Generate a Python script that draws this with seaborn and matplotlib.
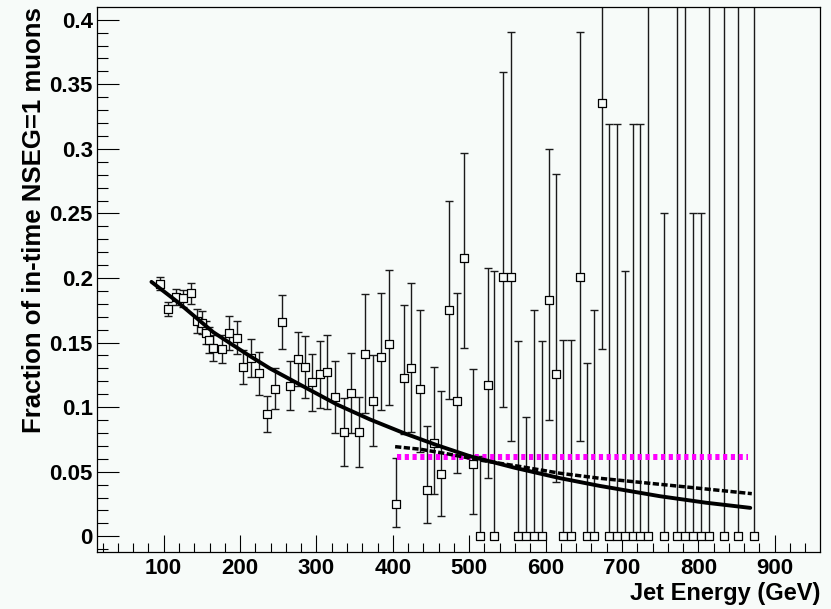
import numpy as np
import pandas as pd
import matplotlib
matplotlib.use("Agg")
import matplotlib.pyplot as plt
import seaborn as sns
from matplotlib.ticker import FixedLocator, MultipleLocator

# ---- data ----
energy = [95.2, 105.3, 115.7, 125.7, 135.8, 144.0, 150.2, 155.0, 159.7, 164.6,
          176.0, 185.5, 195.6, 203.9, 214.0, 225.2, 235.3, 245.4, 254.9, 265.4,
          275.9, 284.6, 294.6, 304.3, 314.2, 324.3, 335.7, 345.3, 355.3, 364.0,
          373.7, 385.0, 395.0, 404.2, 414.3, 424.2, 435.6, 444.4, 454.3, 463.5,
          474.0, 483.7, 493.2, 504.6, 514.2, 524.6, 532.9, 544.7, 554.4, 564.3,
          574.4, 584.5, 595.0, 604.9, 613.3, 623.2, 633.2, 645.0, 653.9, 663.0,
          674.3, 683.5, 693.5, 704.0, 714.1, 723.7, 733.8, 755.2, 772.5, 783.0,
          793.1, 804.0, 814.0, 833.6, 852.4, 873.3]
fraction = [0.1954, 0.1762, 0.1851, 0.1843, 0.1882, 0.1667, 0.1654, 0.1576, 0.1520, 0.1456,
            0.1448, 0.1576, 0.1538, 0.1313, 0.1380, 0.1262, 0.0947, 0.1143, 0.1659, 0.1164,
            0.1375, 0.1313, 0.1192, 0.1254, 0.1272, 0.1081, 0.0808, 0.1112, 0.0808, 0.1414,
            0.1050, 0.1386, 0.1489, 0.0250, 0.1223, 0.1305, 0.1143, 0.0362, 0.0720, 0.0485,
            0.1750, 0.1050, 0.2157, 0.0562, 0.0, 0.1171, 0.0, 0.2005, 0.2005, 0.0,
            0.0, 0.0, 0.0, 0.1832, 0.1254, 0.0, 0.0, 0.2005, 0.0, 0.0,
            0.3353, 0.0, 0.0, 0.0, 0.0, 0.0, 0.0, 0.0, 0.0, 0.0,
            0.0, 0.0, 0.0, 0.0, 0.0, 0.0]
err_low = [0.005, 0.0055, 0.006, 0.0065, 0.008, 0.009, 0.009, 0.009, 0.010, 0.010,
           0.011, 0.013, 0.013, 0.013, 0.015, 0.0165, 0.014, 0.016, 0.021, 0.019,
           0.021, 0.024, 0.022, 0.026, 0.029, 0.028, 0.026, 0.031, 0.027, 0.046,
           0.035, 0.041, 0.047, 0.018, 0.043, 0.050, 0.049, 0.026, 0.039, 0.033,
           0.069, 0.056, 0.070, 0.039, 0.0, 0.072, 0.0, 0.1006, 0.127, 0.0,
           0.0, 0.0, 0.0, 0.093, 0.083, 0.0, 0.0, 0.127, 0.0, 0.0,
           0.1905, 0.0, 0.0, 0.0, 0.0, 0.0, 0.0, 0.0, 0.0, 0.0,
           0.0, 0.0, 0.0, 0.0, 0.0, 0.0]
err_high = [0.005, 0.0055, 0.006, 0.0065, 0.008, 0.009, 0.009, 0.009, 0.010, 0.010,
            0.011, 0.013, 0.013, 0.013, 0.015, 0.0165, 0.014, 0.016, 0.021, 0.019,
            0.021, 0.024, 0.022, 0.026, 0.029, 0.028, 0.026, 0.031, 0.027, 0.046,
            0.035, 0.050, 0.057, 0.0355, 0.057, 0.066, 0.061, 0.049, 0.059, 0.064,
            0.085, 0.083, 0.081, 0.073, 0.062, 0.091, 0.2054, 0.159, 0.19, 0.1515,
            0.092, 0.175, 0.1515, 0.117, 0.155, 0.152, 0.152, 0.19, 0.1344, 0.175,
            0.30, 0.319, 0.319, 0.2054, 0.319, 0.319, 1.0, 0.25, 1.0, 1.0,
            0.25, 0.25, 1.0, 1.0, 1.0, 1.0]

fit_energy = [84, 117, 135, 165, 209, 239, 283, 327, 370, 414, 458, 501, 560, 619, 671, 750, 810, 868]
fit_fraction = [0.197, 0.182, 0.173, 0.158, 0.141, 0.130, 0.116, 0.102, 0.0905, 0.080,
                0.0705, 0.062, 0.053, 0.045, 0.039, 0.031, 0.026, 0.022]

alt_energy = [403, 436, 470, 514, 567, 619, 671, 759, 870]
alt_fraction = [0.0694, 0.0674, 0.064, 0.059, 0.054, 0.0488, 0.0449, 0.0397, 0.033]

flat_energy = [405, 865]
flat_fraction = [0.0616, 0.0616]

xtick_vals = [100, 200, 300, 400, 500, 600, 700, 800, 900]
xtick_labels = ["100", "200", "300", "400", "500", "600", "700", "800", "900"]
ytick_vals = [0, 0.05, 0.1, 0.15, 0.2, 0.25, 0.3, 0.35, 0.4]
ytick_labels = ["0", "0.05", "0.1", "0.15", "0.2", "0.25", "0.3", "0.35", "0.4"]

# ---- styling ----
sns.set_theme(style="ticks")
plt.rcParams["font.family"] = ["Liberation Sans", "DejaVu Sans"]

bg = "#f7fbf9"
W, H = 831, 609
fig = plt.figure(figsize=(W / 100, H / 100), dpi=100, facecolor=bg)
left, right, top, bottom = 97.3, 820.0, 7.3, 552.3
ax = fig.add_axes([left / W, 1 - bottom / H, (right - left) / W, (bottom - top) / H])
ax.set_facecolor(bg)

ax.errorbar(energy, fraction, yerr=[err_low, err_high], fmt="none",
            ecolor="#1a1a1a", elinewidth=1.0, capsize=2.6, capthick=1.0, zorder=2)

pts = pd.DataFrame({"energy": energy, "fraction": fraction})
sns.scatterplot(data=pts, x="energy", y="fraction", marker="s", s=34,
                facecolor=bg, edgecolor="black", linewidth=0.9, zorder=3, ax=ax)

sns.lineplot(x=fit_energy, y=fit_fraction, color="black", linewidth=2.8,
             sort=False, estimator=None, zorder=5, ax=ax)
sns.lineplot(x=alt_energy, y=alt_fraction, color="black", linewidth=2.5,
             linestyle=(0, (1.8, 0.7)), sort=False, estimator=None, zorder=5, ax=ax)
sns.lineplot(x=flat_energy, y=flat_fraction, color="#ff00ff", linewidth=4.3,
             linestyle=(0, (0.7, 0.6)), dash_capstyle="butt",
             sort=False, estimator=None, zorder=4, ax=ax)

ax.set_xlim(13.1, 959.3)
ax.set_ylim(-0.0124, 0.4096)
ax.xaxis.set_major_locator(FixedLocator(xtick_vals))
ax.set_xticklabels(xtick_labels)
ax.yaxis.set_major_locator(FixedLocator(ytick_vals))
ax.set_yticklabels(ytick_labels)
ax.xaxis.set_minor_locator(MultipleLocator(20))
ax.yaxis.set_minor_locator(MultipleLocator(0.01))

ax.tick_params(which="both", direction="in", top=False, right=False,
               width=0.8, color="black", labelcolor="black")
ax.tick_params(axis="x", which="major", length=12.2, pad=4, labelsize=16)
ax.tick_params(axis="x", which="minor", length=6.5)
ax.tick_params(axis="y", which="major", length=15.8, pad=3.3, labelsize=16)
ax.tick_params(axis="y", which="minor", length=7.9)
for lbl in ax.get_xticklabels() + ax.get_yticklabels():
    lbl.set_fontweight("bold")

for sp in ax.spines.values():
    sp.set_visible(True)
    sp.set_color("black")
    sp.set_linewidth(0.9)
ax.grid(False)

ax.set_xlabel("Jet Energy (GeV)", fontsize=17, fontweight="bold", loc="right", color="black")
ax.xaxis.set_label_coords(1.0, -0.055)
ax.set_ylabel("Fraction of in-time NSEG=1 muons", fontsize=18.5, fontweight="bold",
              loc="top", color="black")
ax.yaxis.set_label_coords(-0.071, 1.0)

fig.savefig("out.png", dpi=100, facecolor=bg)
